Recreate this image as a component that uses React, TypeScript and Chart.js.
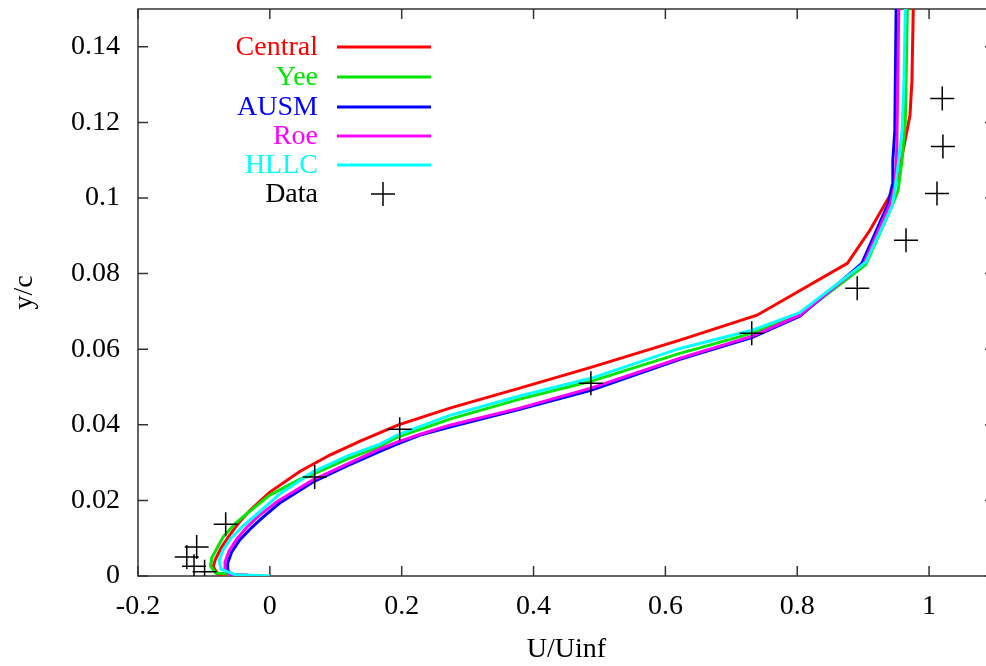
import React, { useEffect, useRef } from "react";
import { Chart, registerables } from "chart.js";

Chart.register(...registerables);

// ---------- data ----------
const SERIES_NAMES = ["Central", "Yee", "AUSM", "Roe", "HLLC"];
const SERIES_COLORS = ["#ff0000", "#00e600", "#0000ff", "#ff00ff", "#00ffff"];

const CENTRAL_X = [-0.023, -0.079, -0.086, -0.083, -0.074, -0.061, -0.046, -0.03, 0.0, 0.046, 0.091, 0.137, 0.194, 0.273, 0.379, 0.487, 0.622, 0.739, 0.876, 0.91, 0.945, 0.953, 0.959, 0.965, 0.971, 0.974, 0.976];
const CENTRAL_Y = [0, 0.0005, 0.0024, 0.0042, 0.0074, 0.0108, 0.0143, 0.0174, 0.0222, 0.0277, 0.032, 0.0357, 0.0399, 0.0444, 0.0497, 0.0552, 0.0624, 0.069, 0.0827, 0.0914, 0.102, 0.106, 0.111, 0.1165, 0.1218, 0.131, 0.15];

const YEE_X = [-0.03, -0.082, -0.09, -0.088, -0.08, -0.071, -0.053, -0.03, 0.0, 0.046, 0.065, 0.117, 0.167, 0.193, 0.273, 0.379, 0.487, 0.622, 0.731, 0.804, 0.904, 0.944, 0.953, 0.959, 0.964, 0.967];
const YEE_Y = [0, 0.0008, 0.0026, 0.0048, 0.0074, 0.0103, 0.0138, 0.0172, 0.0214, 0.0256, 0.0269, 0.0309, 0.0343, 0.0367, 0.0415, 0.0468, 0.0515, 0.0589, 0.0642, 0.069, 0.0824, 0.098, 0.102, 0.11, 0.1205, 0.15];

const AUSM_X = [-0.012, -0.058, -0.064, -0.064, -0.058, -0.046, -0.03, -0.012, 0.015, 0.065, 0.117, 0.167, 0.193, 0.228, 0.273, 0.379, 0.487, 0.622, 0.731, 0.804, 0.898, 0.938, 0.944, 0.945, 0.948, 0.95];
const AUSM_Y = [0, 0.0003, 0.0016, 0.0034, 0.0063, 0.0095, 0.0124, 0.0153, 0.0193, 0.0248, 0.0291, 0.033, 0.0349, 0.0373, 0.0394, 0.0441, 0.0491, 0.0573, 0.0631, 0.0687, 0.0827, 0.0985, 0.1033, 0.11, 0.1178, 0.15];

const ROE_X = [-0.015, -0.062, -0.068, -0.068, -0.062, -0.05, -0.035, -0.017, 0.012, 0.065, 0.117, 0.167, 0.193, 0.228, 0.273, 0.379, 0.487, 0.622, 0.731, 0.804, 0.901, 0.941, 0.948, 0.951, 0.954];
const ROE_Y = [0, 0.0005, 0.0018, 0.0037, 0.0066, 0.0098, 0.0129, 0.0159, 0.0198, 0.0254, 0.0296, 0.0336, 0.0354, 0.0375, 0.0399, 0.0444, 0.0497, 0.0576, 0.0634, 0.069, 0.0827, 0.0985, 0.1033, 0.1125, 0.15];

const HLLC_X = [0.0, -0.052, -0.074, -0.077, -0.071, -0.059, -0.041, -0.018, 0.015, 0.065, 0.117, 0.167, 0.193, 0.273, 0.379, 0.487, 0.622, 0.731, 0.804, 0.904, 0.944, 0.948, 0.953, 0.959, 0.962, 0.964];
const HLLC_Y = [0, 0.0003, 0.0018, 0.004, 0.0069, 0.01, 0.0132, 0.0166, 0.0217, 0.0275, 0.0317, 0.0349, 0.0373, 0.0425, 0.0476, 0.0523, 0.0602, 0.065, 0.0697, 0.083, 0.098, 0.102, 0.1086, 0.1178, 0.131, 0.15];

const DATA_X = [1.02, 1.021, 1.012, 0.965, 0.891, 0.731, 0.487, 0.197, 0.068, -0.067, -0.111, -0.126, -0.115, -0.099];
const DATA_Y = [0.1263, 0.1136, 0.1012, 0.0888, 0.0761, 0.0642, 0.051, 0.0388, 0.0262, 0.0137, 0.0077, 0.005, 0.0026, 0.0011];

const X_TICKS = [-0.2, 0, 0.2, 0.4, 0.6, 0.8, 1];
const X_TICK_LABELS = ["-0.2", "0", "0.2", "0.4", "0.6", "0.8", "1"];
const Y_TICKS = [0, 0.02, 0.04, 0.06, 0.08, 0.1, 0.12, 0.14];
const Y_TICK_LABELS = ["0", "0.02", "0.04", "0.06", "0.08", "0.1", "0.12", "0.14"];

const X_TITLE = "U/Uinf";
const Y_TITLE = "y/c";
const DATA_NAME = "Data";

// ---------- styles ----------
const FONT_FAMILY = "'Liberation Serif', 'Times New Roman', serif";
const FONT_SIZE = 28;
const LINE_WIDTH = 3;
const FRAME_COLOR = "#333333";
const TICK_LEN = 10;

const zip = (xs: number[], ys: number[]) => xs.map((x, i) => ({ x, y: ys[i] }));
const SERIES = [
  zip(CENTRAL_X, CENTRAL_Y),
  zip(YEE_X, YEE_Y),
  zip(AUSM_X, AUSM_Y),
  zip(ROE_X, ROE_Y),
  zip(HLLC_X, HLLC_Y),
];

const labelFor = (ticks: number[], labels: string[], v: number) => {
  const i = ticks.findIndex((t) => Math.abs(t - v) < 1e-9);
  return i >= 0 ? labels[i] : "";
};

const zeroPad = (s: any) => {
  s.paddingLeft = 0;
  s.paddingRight = 0;
  s.paddingTop = 0;
  s.paddingBottom = 0;
};

const framePlugin = {
  id: "gnuFrame",
  beforeDatasetsDraw(chart: any) {
    const { ctx, chartArea: a, scales } = chart;
    ctx.save();
    ctx.strokeStyle = FRAME_COLOR;
    ctx.lineWidth = 1.5;
    ctx.strokeRect(a.left, a.top, a.right - a.left, a.bottom - a.top);
    ctx.beginPath();
    X_TICKS.forEach((v) => {
      const px = scales.x.getPixelForValue(v);
      ctx.moveTo(px, a.bottom);
      ctx.lineTo(px, a.bottom - TICK_LEN);
      ctx.moveTo(px, a.top);
      ctx.lineTo(px, a.top + TICK_LEN);
    });
    Y_TICKS.forEach((v) => {
      const py = scales.y.getPixelForValue(v);
      ctx.moveTo(a.left, py);
      ctx.lineTo(a.left + TICK_LEN, py);
      ctx.moveTo(a.right, py);
      ctx.lineTo(a.right - TICK_LEN, py);
    });
    ctx.stroke();
    ctx.restore();
  },
};

const keyPlugin = {
  id: "gnuKey",
  afterDraw(chart: any) {
    const { ctx } = chart;
    const textRight = 318;
    const lineStart = 337;
    const lineEnd = 431;
    const rows = [47, 77, 107, 136, 165, 194];
    ctx.save();
    ctx.font = `${FONT_SIZE}px ${FONT_FAMILY}`;
    ctx.textAlign = "right";
    ctx.textBaseline = "middle";
    chart.data.datasets.forEach((ds: any, i: number) => {
      const y = rows[i];
      ctx.fillStyle = ds.isData ? "#000000" : ds.borderColor;
      ctx.fillText(ds.label, textRight, y + 1);
      ctx.beginPath();
      if (ds.isData) {
        const cx = (lineStart + lineEnd) / 2 - 1;
        ctx.strokeStyle = "#000000";
        ctx.lineWidth = 1.5;
        ctx.moveTo(cx - 12, y);
        ctx.lineTo(cx + 12, y);
        ctx.moveTo(cx, y - 12);
        ctx.lineTo(cx, y + 12);
      } else {
        ctx.strokeStyle = ds.borderColor;
        ctx.lineWidth = LINE_WIDTH;
        ctx.moveTo(lineStart, y);
        ctx.lineTo(lineEnd, y);
      }
      ctx.stroke();
    });
    ctx.restore();
  },
};

export default function App() {
  const ref = useRef<HTMLCanvasElement | null>(null);

  useEffect(() => {
    if (!ref.current) return;
    const datasets: any[] = SERIES.map((pts, i) => ({
      label: SERIES_NAMES[i],
      data: pts,
      borderColor: SERIES_COLORS[i],
      backgroundColor: SERIES_COLORS[i],
      borderWidth: LINE_WIDTH,
      showLine: true,
      pointRadius: 0,
      tension: 0,
      order: SERIES_NAMES.length - i,
    }));
    datasets.push({
      label: DATA_NAME,
      isData: true,
      data: zip(DATA_X, DATA_Y),
      showLine: false,
      pointStyle: "cross",
      pointRadius: 12,
      pointBorderWidth: 1.5,
      borderColor: "#000000",
      pointBorderColor: "#000000",
      backgroundColor: "#000000",
      order: 0,
    });

    const tickFont = { family: FONT_FAMILY, size: FONT_SIZE };
    const chart = new Chart(ref.current, {
      type: "scatter",
      data: { datasets },
      plugins: [framePlugin, keyPlugin],
      options: {
        animation: false,
        responsive: false,
        devicePixelRatio: 1,
        layout: { autoPadding: false, padding: { top: 9, right: 5, left: 0, bottom: 0 } },
        plugins: { legend: { display: false }, tooltip: { enabled: false } },
        scales: {
          x: {
            type: "linear",
            min: -0.2,
            max: 1.1,
            grid: { display: false, drawTicks: false },
            border: { display: false },
            afterBuildTicks: (s: any) => {
              s.ticks = X_TICKS.map((v) => ({ value: v }));
            },
            afterFit: (s: any) => {
              s.height = 90;
              zeroPad(s);
            },
            ticks: {
              color: "#000",
              font: tickFont,
              padding: 14,
              maxRotation: 0,
              autoSkip: false,
              callback: (v: any) => labelFor(X_TICKS, X_TICK_LABELS, Number(v)),
            },
            title: {
              display: true,
              text: X_TITLE,
              color: "#000",
              font: tickFont,
              padding: { top: 0, bottom: 0 },
            },
          },
          y: {
            type: "linear",
            min: 0,
            max: 0.15,
            grid: { display: false, drawTicks: false },
            border: { display: false },
            afterBuildTicks: (s: any) => {
              s.ticks = Y_TICKS.map((v) => ({ value: v }));
            },
            afterFit: (s: any) => {
              s.width = 138;
              zeroPad(s);
            },
            ticks: {
              color: "#000",
              font: tickFont,
              padding: 18,
              autoSkip: false,
              callback: (v: any) => labelFor(Y_TICKS, Y_TICK_LABELS, Number(v)),
            },
            title: {
              display: true,
              text: Y_TITLE,
              color: "#000",
              font: tickFont,
              padding: { top: 8, bottom: 0 },
            },
          },
        },
      } as any,
    });
    return () => chart.destroy();
  }, []);

  return (
    <div
      style={{
        position: "fixed",
        left: 0,
        top: 0,
        width: 986,
        height: 666,
        overflow: "hidden",
        background: "#ffffff",
      }}
    >
      <canvas ref={ref} width={1000} height={666} style={{ display: "block", width: 1000, height: 666 }} />
    </div>
  );
}
